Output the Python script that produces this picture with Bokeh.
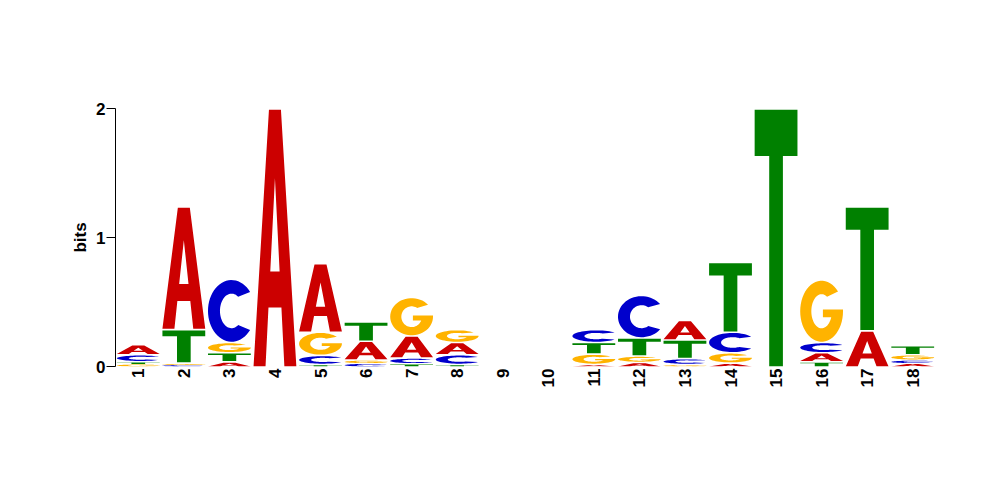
import math
from bokeh.plotting import figure
from bokeh.models import Range1d, FixedTicker, ColumnDataSource
from bokeh.embed import file_html
from bokeh.resources import INLINE

# ---- data (bits per letter, per position) ----
positions = list(range(1, 19))
A_bits = [0.078, 0.95, 0.03, 1.99, 0.53, 0.145, 0.17, 0.095, 0.0, 0.0, 0.01, 0.025, 0.15, 0.02, 0.0, 0.07, 0.27, 0.02]
C_bits = [0.054, 0.01, 0.49, 0.0, 0.07, 0.02, 0.045, 0.075, 0.0, 0.0, 0.10, 0.33, 0.045, 0.16, 0.0, 0.08, 0.0, 0.025]
G_bits = [0.015, 0.01, 0.08, 0.0, 0.18, 0.025, 0.30, 0.10, 0.0, 0.0, 0.08, 0.05, 0.01, 0.08, 0.0, 0.485, 0.0, 0.04]
T_bits = [0.016, 0.26, 0.07, 0.0, 0.01, 0.15, 0.015, 0.01, 0.0, 0.0, 0.09, 0.14, 0.145, 0.54, 1.99, 0.03, 0.96, 0.07]
tick_labels = [str(i) for i in positions]
colors = {"A": "#CC0000", "C": "#0000CC", "G": "#FFB300", "T": "#008000"}


# ---- letter outline templates in a unit box ----
def arc(cx, cy, rx, ry, t0, t1, n=48):
    pts = []
    for k in range(n + 1):
        t = math.radians(t0 + (t1 - t0) * k / n)
        pts.append((cx + rx * math.cos(t), cy + ry * math.sin(t)))
    return pts


A_outer = [(0, 0), (0.36, 1), (0.64, 1), (1, 0), (0.72, 0), (0.651, 0.23), (0.349, 0.23), (0.28, 0)]
A_hole = [(0.391, 0.37), (0.609, 0.37), (0.5, 0.733)]
T_shape = [(0, 1), (1, 1), (1, 0.82), (0.66, 0.82), (0.66, 0), (0.34, 0), (0.34, 0.82), (0, 0.82)]
C_shape = arc(0.55, 0.5, 0.55, 0.5, 38, 322) + arc(0.55, 0.5, 0.27, 0.28, 305, 55)
ti = math.degrees(math.asin(-0.1 / 0.28))
xi = 0.5 + 0.24 * math.cos(math.radians(ti))
G_shape = (arc(0.5, 0.5, 0.5, 0.5, 40, 360)
           + [(1.0, 0.53), (0.53, 0.53), (0.53, 0.40), (xi, 0.40)]
           + arc(0.5, 0.5, 0.24, 0.28, 360 + ti, 58))
templates = {"A": [A_outer, A_hole], "C": [C_shape], "G": [G_shape], "T": [T_shape]}

bits = {"A": A_bits, "C": C_bits, "G": G_bits, "T": T_bits}
half_w = 0.47

xs, ys, fills = [], [], []
for i, pos in enumerate(positions):
    order = sorted("ACGT", key=lambda L: bits[L][i])
    y0 = 0.0
    first = True
    for L in order:
        h = bits[L][i]
        if h <= 0:
            continue
        gap = 0.0 if first else min(0.012, 0.25 * h)
        bot, top = y0 + gap, y0 + h
        rings_x, rings_y = [], []
        for ring in templates[L]:
            rings_x.append([pos - half_w + 2 * half_w * u for u, v in ring])
            rings_y.append([bot + (top - bot) * v for u, v in ring])
        xs.append([rings_x])
        ys.append([rings_y])
        fills.append(colors[L])
        y0 += h
        first = False

src = ColumnDataSource(dict(xs=xs, ys=ys, color=fills))

p = figure(frame_width=820, frame_height=258, output_backend="svg", toolbar_location=None,
           x_range=Range1d(0.5, 18.5), y_range=Range1d(0, 2),
           min_border_left=115, min_border_right=55, min_border_top=108, min_border_bottom=105)
p.outline_line_color = None
p.xgrid.visible = False
p.ygrid.visible = False
p.background_fill_color = "white"
p.border_fill_color = "white"

p.multi_polygons(xs="xs", ys="ys", fill_color="color", line_color=None, source=src)

font = "Liberation Sans"
yax = p.yaxis[0]
yax.ticker = FixedTicker(ticks=[0, 1, 2])
yax.minor_tick_line_color = None
yax.major_tick_out = 9
yax.major_tick_in = 0
yax.axis_line_color = "black"
yax.major_tick_line_color = "black"
yax.major_label_text_font = font
yax.major_label_text_font_style = "bold"
yax.major_label_text_font_size = "17px"
yax.major_label_text_color = "black"
yax.major_label_standoff = 1
yax.axis_label = "bits"
yax.axis_label_text_font = font
yax.axis_label_text_font_style = "bold"
yax.axis_label_text_font_size = "17px"
yax.axis_label_text_color = "black"
yax.axis_label_standoff = 3

xax = p.xaxis[0]
xax.ticker = FixedTicker(ticks=positions)
xax.major_label_overrides = {pos: lab for pos, lab in zip(positions, tick_labels)}
xax.axis_line_color = None
xax.major_tick_line_color = None
xax.minor_tick_line_color = None
xax.major_tick_out = 0
xax.major_tick_in = 0
xax.major_label_orientation = math.pi / 2
xax.major_label_standoff = 2
xax.major_label_text_font = font
xax.major_label_text_font_style = "bold"
xax.major_label_text_font_size = "17px"
xax.major_label_text_color = "black"

open("out.html", "w").write(file_html(p, INLINE))
